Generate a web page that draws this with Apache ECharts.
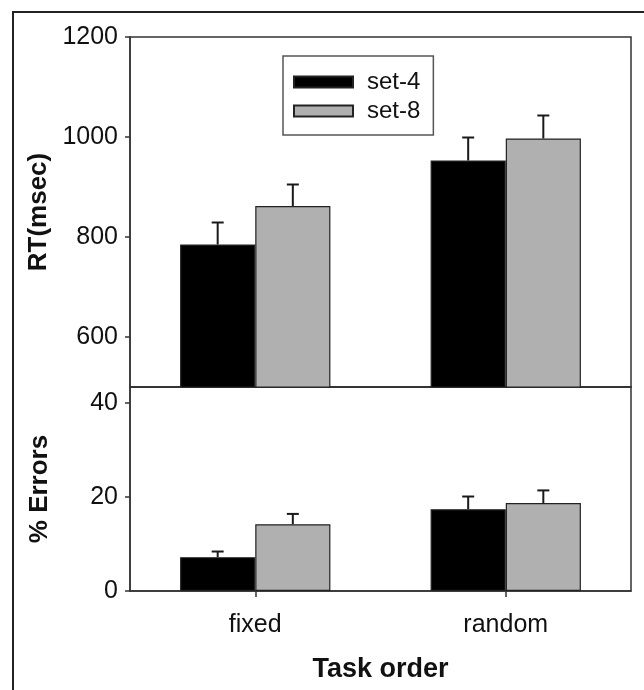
<!DOCTYPE html>
<html>
<head>
<meta charset="utf-8">
<script src="https://cdn.jsdelivr.net/npm/echarts@6/dist/echarts.min.js"></script>
<style>
  html, body { margin: 0; padding: 0; background: #fff; }
  #frame { position: absolute; left: 12px; top: 11px; width: 700px; height: 700px;
           border-left: 2px solid #222; border-top: 2px solid #222; }
  #chart { position: absolute; left: 0; top: 0; width: 644px; height: 690px; }
</style>
</head>
<body>
<div id="frame"></div>
<div id="chart"></div>
<script>
// ---- data ----
var categories = ['fixed', 'random'];
var seriesNames = ['set-4', 'set-8'];
var rtSet4 = [785, 953];
var rtSet4Err = [44, 46];
var rtSet8 = [862, 997];
var rtSet8Err = [43, 46];
var errSet4 = [7.2, 17.4];
var errSet4Err = [1.2, 2.7];
var errSet8 = [14.2, 18.7];
var errSet8Err = [2.2, 2.7];
var rtTicks = [600, 800, 1000, 1200];
var errTicks = [0, 20, 40];

var FONT = '"Liberation Sans", Arial, sans-serif';
var AX = '#333';
var TXT = '#111';
var BLACK = '#000000';
var GRAY = '#b0b0b0';

function plain(v) { return String(v); }

function errData(vals, errs) {
  return vals.map(function (v, i) { return [i, v, errs[i]]; });
}

function errSeries(name, xi, yi, vals, errs, side) {
  return {
    name: name,
    type: 'custom',
    xAxisIndex: xi,
    yAxisIndex: yi,
    z: 10,
    silent: true,
    data: errData(vals, errs),
    renderItem: function (params, api) {
      var band = api.size([1, 0])[0];
      var off = side * band * 0.15;
      var base = api.coord([api.value(0), api.value(1)]);
      var top = api.coord([api.value(0), api.value(1) + api.value(2)]);
      var x = base[0] + off;
      var style = { stroke: '#1a1a1a', lineWidth: 2 };
      return {
        type: 'group',
        children: [
          { type: 'line', shape: { x1: x, y1: base[1], x2: x, y2: top[1] }, style: style },
          { type: 'line', shape: { x1: x - 6, y1: top[1], x2: x + 6, y2: top[1] }, style: style }
        ]
      };
    }
  };
}

function barSeries(name, xi, yi, vals, color) {
  return {
    name: name,
    type: 'bar',
    xAxisIndex: xi,
    yAxisIndex: yi,
    barGap: '0%',
    barCategoryGap: '40%',
    clip: true,
    data: vals,
    itemStyle: { color: color, borderColor: '#222', borderWidth: 1.2 }
  };
}

var axisLine = { show: true, lineStyle: { color: AX, width: 1.5 } };

var option = {
  animation: false,
  backgroundColor: 'transparent',
  textStyle: { fontFamily: FONT },
  legend: {
    data: seriesNames,
    orient: 'vertical',
    left: 283,
    top: 56,
    padding: [14, 13, 12, 10],
    itemWidth: 59,
    itemHeight: 11,
    itemGap: 5,
    icon: 'rect',
    borderColor: '#555',
    borderWidth: 1.5,
    textStyle: { fontFamily: FONT, fontSize: 24, color: TXT, padding: [0, 0, 0, 9] }
  },
  grid: [
    { left: 130, top: 37, width: 501, height: 350, show: true, borderColor: AX, borderWidth: 1.5, backgroundColor: 'transparent' },
    { left: 130, top: 387, width: 501, height: 204, show: true, borderColor: AX, borderWidth: 1.5, backgroundColor: 'transparent' }
  ],
  xAxis: [
    { gridIndex: 0, type: 'category', data: categories, axisLine: axisLine,
      axisTick: { show: false }, axisLabel: { show: false }, splitLine: { show: false } },
    { gridIndex: 1, type: 'category', data: categories, axisLine: axisLine,
      axisTick: { show: true, alignWithLabel: true, length: 6, lineStyle: { color: AX, width: 1.5 } },
      axisLabel: { fontFamily: FONT, fontSize: 25, color: TXT, margin: 22 },
      splitLine: { show: false },
      name: 'Task order', nameLocation: 'middle', nameGap: 65,
      nameTextStyle: { fontFamily: FONT, fontSize: 27, fontWeight: 'bold', color: TXT } }
  ],
  yAxis: [
    { gridIndex: 0, type: 'value', min: 500, max: 1200, axisLine: axisLine,
      axisTick: { show: true, length: 5, customValues: rtTicks, lineStyle: { color: AX, width: 1.5 } },
      axisLabel: { customValues: rtTicks, formatter: plain, fontFamily: FONT, fontSize: 25, color: TXT, margin: 12 },
      splitLine: { show: false },
      name: 'RT(msec)', nameLocation: 'middle', nameGap: 77,
      nameTextStyle: { fontFamily: FONT, fontSize: 26, fontWeight: 'bold', color: TXT } },
    { gridIndex: 1, type: 'value', min: 0, max: 43.4, axisLine: axisLine,
      axisTick: { show: true, length: 5, customValues: errTicks, lineStyle: { color: AX, width: 1.5 } },
      axisLabel: { customValues: errTicks, formatter: plain, fontFamily: FONT, fontSize: 25, color: TXT, margin: 12 },
      splitLine: { show: false },
      name: '% Errors', nameLocation: 'middle', nameGap: 77,
      nameTextStyle: { fontFamily: FONT, fontSize: 26, fontWeight: 'bold', color: TXT } }
  ],
  series: [
    barSeries(seriesNames[0], 0, 0, rtSet4, BLACK),
    barSeries(seriesNames[1], 0, 0, rtSet8, GRAY),
    barSeries(seriesNames[0], 1, 1, errSet4, BLACK),
    barSeries(seriesNames[1], 1, 1, errSet8, GRAY),
    errSeries(seriesNames[0], 0, 0, rtSet4, rtSet4Err, -1),
    errSeries(seriesNames[1], 0, 0, rtSet8, rtSet8Err, 1),
    errSeries(seriesNames[0], 1, 1, errSet4, errSet4Err, -1),
    errSeries(seriesNames[1], 1, 1, errSet8, errSet8Err, 1)
  ]
};

var chart = echarts.init(document.getElementById('chart'), null, { renderer: 'canvas' });
chart.setOption(option);
</script>
</body>
</html>
